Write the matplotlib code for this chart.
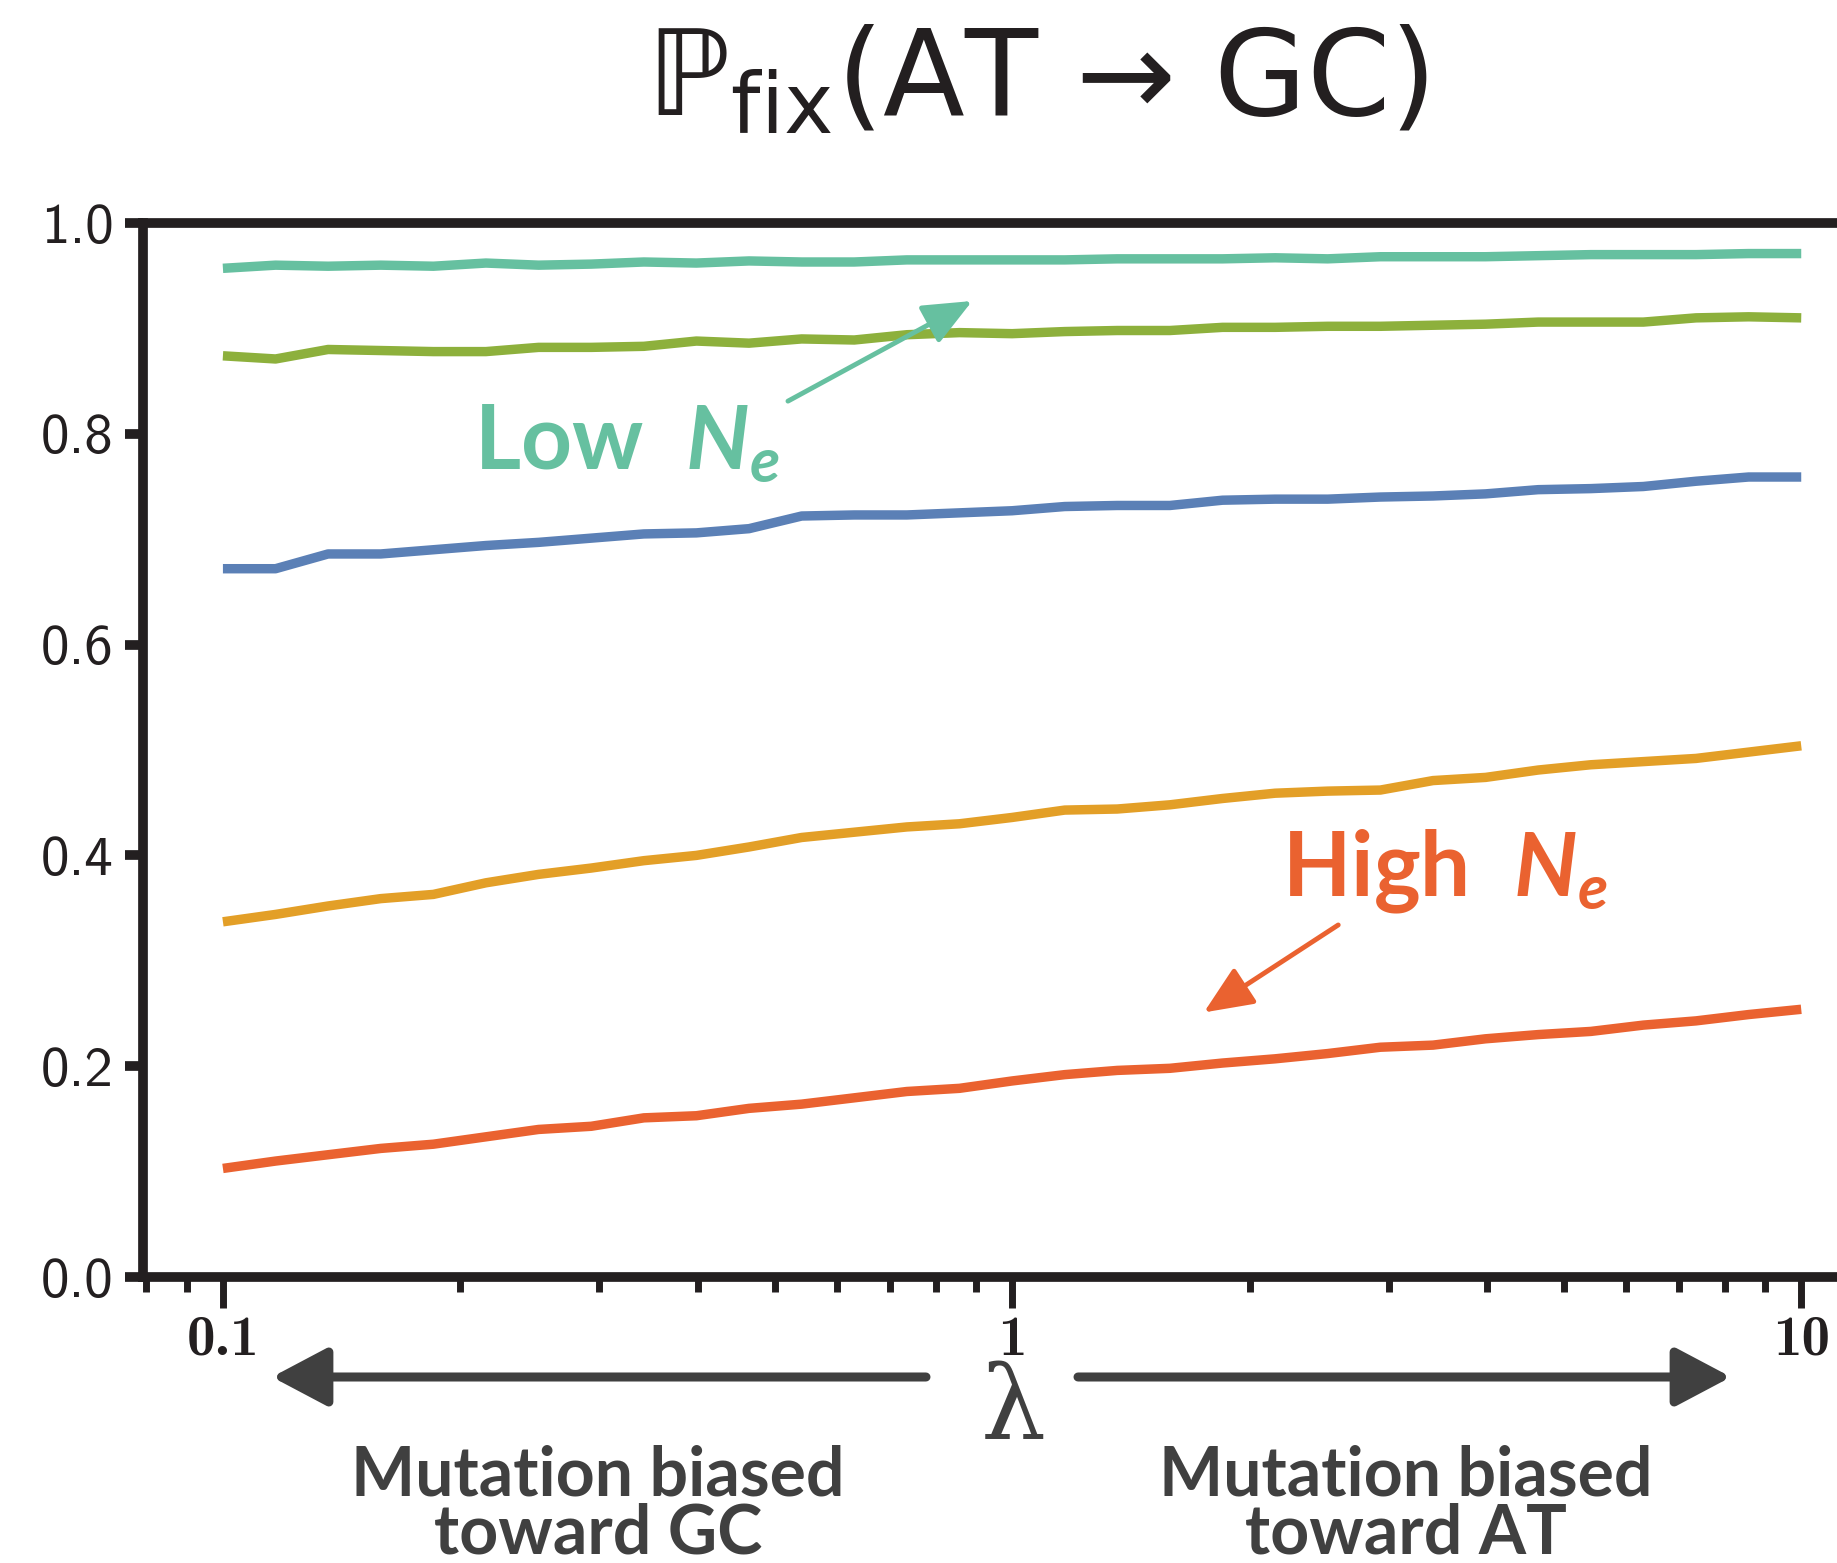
import matplotlib
matplotlib.use("Agg")
import matplotlib.pyplot as plt
import numpy as np

############################################
## Data
############################################

lam = [0.1, 0.1166, 0.1359, 0.1585, 0.1848, 0.2154, 0.2512, 0.2929, 0.3415, 0.3981,
       0.4642, 0.5412, 0.6310, 0.7356, 0.8577, 1.0, 1.166, 1.359, 1.585, 1.848,
       2.154, 2.512, 2.929, 3.415, 3.981, 4.642, 5.412, 6.310, 7.356, 8.577, 10.0]

p_teal = [0.957, 0.960, 0.959, 0.960, 0.959, 0.962, 0.960, 0.961, 0.963, 0.962,
          0.964, 0.963, 0.963, 0.965, 0.965, 0.965, 0.965, 0.966, 0.966, 0.966,
          0.967, 0.966, 0.968, 0.968, 0.968, 0.969, 0.970, 0.970, 0.970, 0.971, 0.971]
p_green = [0.874, 0.871, 0.880, 0.879, 0.878, 0.878, 0.882, 0.882, 0.883, 0.888,
           0.886, 0.890, 0.889, 0.894, 0.896, 0.895, 0.897, 0.898, 0.898, 0.901,
           0.901, 0.902, 0.902, 0.903, 0.904, 0.906, 0.906, 0.906, 0.910, 0.911, 0.910]
p_blue = [0.672, 0.672, 0.686, 0.686, 0.690, 0.694, 0.697, 0.701, 0.705, 0.706,
          0.710, 0.722, 0.723, 0.723, 0.725, 0.727, 0.731, 0.732, 0.732, 0.737,
          0.738, 0.738, 0.740, 0.741, 0.743, 0.747, 0.748, 0.750, 0.755, 0.759, 0.759]
p_orange = [0.337, 0.344, 0.352, 0.359, 0.363, 0.374, 0.382, 0.388, 0.395, 0.400,
            0.408, 0.417, 0.422, 0.427, 0.430, 0.436, 0.443, 0.444, 0.448, 0.454,
            0.459, 0.461, 0.462, 0.471, 0.474, 0.481, 0.486, 0.489, 0.492, 0.498, 0.504]
p_red = [0.103, 0.110, 0.116, 0.122, 0.126, 0.133, 0.140, 0.143, 0.151, 0.153,
         0.160, 0.164, 0.170, 0.176, 0.179, 0.186, 0.192, 0.196, 0.198, 0.203,
         0.207, 0.212, 0.218, 0.220, 0.226, 0.230, 0.233, 0.239, 0.243, 0.249, 0.254]

series = [p_teal, p_green, p_blue, p_orange, p_red]
colors = ["#66c0a0", "#8db03c", "#5b80b6", "#e39f27", "#ea6230"]

yticks = [0.0, 0.2, 0.4, 0.6, 0.8, 1.0]
xticks = [0.1, 1, 10]
xticklabels = ["0.1", "1", "10"]

dark = "#231f20"
gray = "#404040"

plt.rcParams["mathtext.fontset"] = "custom"
plt.rcParams["mathtext.it"] = "Lato:italic:bold"
plt.rcParams["mathtext.rm"] = "Lato:bold"
plt.rcParams["mathtext.sf"] = "DejaVu Sans"

############################################
## Plot
############################################

fig = plt.figure(figsize=(18.37, 15.63), dpi=100)
ax = fig.add_axes([143 / 1837, 286 / 1563, 1 - 143 / 1837, 1054 / 1563])

for vals, c in zip(series, colors):
    ax.plot(lam, vals, color=c, lw=6.8, solid_capstyle="butt")

ax.set_xscale("log")
ax.set_xlim(0.0792, 11.1)
ax.set_ylim(0, 1.0)

for s in ["left", "top", "bottom"]:
    ax.spines[s].set_linewidth(7)
    ax.spines[s].set_color(dark)
ax.spines["right"].set_visible(False)

ax.set_yticks(yticks)
ax.set_yticklabels(["%.1f" % v for v in yticks], family="cmss10", fontsize=41, color=dark)
ax.set_xticks(xticks)
ax.set_xticklabels(xticklabels, family="cmb10", fontsize=41, color=dark)
ax.tick_params(axis="y", which="major", length=13, width=7, color=dark, pad=8, direction="out")
ax.tick_params(axis="x", which="major", length=22, width=5, color=dark, pad=6, direction="out")
ax.tick_params(axis="x", which="minor", length=11, width=5, color=dark, direction="out")
ax.tick_params(top=False, right=False, which="both")

fig.text(1037 / 1837, 1 - 82 / 1563, "ℙ$_{\\mathsf{fix}}$(AT → GC)",
         family="DejaVu Sans", fontsize=86, color=dark, ha="center", va="center")

# annotations
ax.annotate("", xy=(0.89, 0.926), xytext=(0.52, 0.831),
            arrowprops=dict(arrowstyle="-|>,head_length=1.5,head_width=0.65", color=colors[0],
                            lw=3.5, mutation_scale=20, shrinkA=0, shrinkB=0))
ax.text(0.208, 0.767, "Low  $N_e$", color=colors[0], family="Lato", fontweight="bold",
        fontsize=64, ha="left", va="baseline")

ax.annotate("", xy=(1.75, 0.251), xytext=(2.59, 0.334),
            arrowprops=dict(arrowstyle="-|>,head_length=1.5,head_width=0.65", color=colors[4],
                            lw=3.5, mutation_scale=20, shrinkA=0, shrinkB=0))
ax.text(2.20, 0.361, "High  $N_e$", color=colors[4], family="Lato", fontweight="bold",
        fontsize=64, ha="left", va="baseline")

# lambda axis label with direction arrows
fig.text(1013 / 1837, 1 - 1439 / 1563, "λ", family="DejaVu Serif", fontsize=74,
         color=gray, ha="center", va="baseline")
fig.add_artist(matplotlib.patches.FancyArrowPatch(
    (926 / 1837, 1 - 1377 / 1563), (272 / 1837, 1 - 1377 / 1563), transform=fig.transFigure,
    arrowstyle="-|>,head_length=1.7,head_width=0.9", lw=6.5, color=gray, mutation_scale=20,
    shrinkA=0, shrinkB=0))
fig.add_artist(matplotlib.patches.FancyArrowPatch(
    (1078 / 1837, 1 - 1377 / 1563), (1731 / 1837, 1 - 1377 / 1563), transform=fig.transFigure,
    arrowstyle="-|>,head_length=1.7,head_width=0.9", lw=6.5, color=gray, mutation_scale=20,
    shrinkA=0, shrinkB=0))

fig.text(598 / 1837, 1 - 1505 / 1563, "Mutation biased\ntoward GC", family="Lato",
         fontweight="bold", fontsize=49, color=gray, ha="center", va="center", linespacing=0.9)
fig.text(1406 / 1837, 1 - 1505 / 1563, "Mutation biased\ntoward AT", family="Lato",
         fontweight="bold", fontsize=49, color=gray, ha="center", va="center", linespacing=0.9)

fig.savefig("out.png", dpi=100)
